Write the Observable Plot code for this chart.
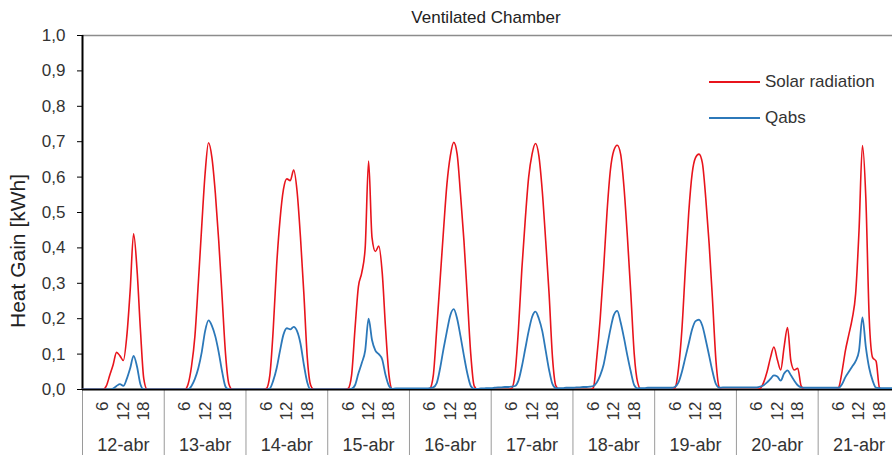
<!DOCTYPE html>
<html>
<head>
<meta charset="utf-8">
<script src="https://cdn.jsdelivr.net/npm/d3@7"></script>
<script src="https://cdn.jsdelivr.net/npm/@observablehq/plot@0.6"></script>
<style>
  html, body { margin: 0; padding: 0; background: #fff; }
  body { font-family: "Liberation Sans", Arial, sans-serif; }
  #wrap { position: relative; width: 892px; height: 455px; overflow: hidden; }
  #title { position: absolute; left: 336px; width: 300px; top: 8px; text-align: center; font-size: 17px; color: #222; line-height: 20px; }
  #ylabel { position: absolute; left: 8px; top: 328px; transform-origin: 0 0; transform: rotate(-90deg); font-size: 21px; line-height: 20px; white-space: nowrap; color: #222; }
  .leg { position: absolute; left: 709px; font-size: 17px; color: #333; display: flex; align-items: center; line-height: 20px; }
  .leg span.sw { display: inline-block; width: 51px; height: 2px; margin-right: 5px; }
  #chart svg { position: absolute; left: 0; top: 0; }
</style>
</head>
<body>
<div id="wrap">
  <div id="chart"></div>
  <div id="title">Ventilated Chamber</div>
  <div id="ylabel">Heat Gain [kWh]</div>
  <div class="leg" style="top:72px"><span class="sw" style="background:#e8141c"></span>Solar radiation</div>
  <div class="leg" style="top:108px"><span class="sw" style="background:#2c78b9"></span>Qabs</div>
</div>
<script>
// ---- data (hourly values, one row per day, hours 0..23) ----
const days = ["12-abr","13-abr","14-abr","15-abr","16-abr","17-abr","18-abr","19-abr","20-abr","21-abr"];
const hourTicks = [6, 12, 18];
const yTicks = [0, 0.1, 0.2, 0.3, 0.4, 0.5, 0.6, 0.7, 0.8, 0.9, 1.0];

const solar = [
  [0,0,0,0,0,0,0,0.01,0.04,0.07,0.105,0.095,0.082,0.15,0.28,0.44,0.34,0.17,0.03,0,0,0,0,0],
  [0,0,0,0,0,0,0,0.015,0.065,0.15,0.30,0.46,0.61,0.697,0.655,0.555,0.42,0.26,0.10,0.015,0,0,0,0],
  [0,0,0,0,0,0,0.003,0.04,0.17,0.35,0.48,0.565,0.595,0.59,0.62,0.56,0.43,0.27,0.09,0.012,0,0,0,0],
  [0,0,0,0,0,0,0.003,0.04,0.17,0.29,0.33,0.40,0.645,0.43,0.39,0.405,0.33,0.17,0.04,0,0,0,0,0],
  [0,0,0,0,0,0,0.003,0.04,0.17,0.31,0.45,0.58,0.66,0.698,0.665,0.55,0.42,0.26,0.10,0.01,0,0,0,0],
  [0,0,0,0,0,0,0.003,0.045,0.17,0.34,0.48,0.60,0.665,0.695,0.66,0.56,0.42,0.27,0.09,0.01,0,0,0,0],
  [0,0,0,0,0,0,0.005,0.09,0.20,0.34,0.50,0.62,0.675,0.69,0.665,0.57,0.43,0.27,0.10,0.02,0,0,0,0],
  [0,0,0,0,0,0,0.005,0.06,0.17,0.34,0.50,0.61,0.655,0.665,0.64,0.54,0.41,0.25,0.08,0.005,0,0,0,0],
  [0,0,0,0,0,0,0,0.003,0.02,0.05,0.09,0.12,0.085,0.055,0.12,0.175,0.08,0.055,0.06,0.01,0,0,0,0],
  [0,0,0,0,0,0,0.005,0.05,0.11,0.155,0.20,0.27,0.45,0.689,0.54,0.20,0.09,0.08,0.005,0,0,0,0,0]
];

const qabs = [
  [0,0,0,0,0,0,0,0,0,0.003,0.01,0.015,0.01,0.03,0.06,0.095,0.065,0.015,0,0,0,0,0,0],
  [0,0,0,0,0,0,0,0,0.01,0.03,0.06,0.105,0.165,0.195,0.18,0.15,0.105,0.05,0.008,0,0,0,0,0],
  [0,0,0,0,0,0,0,0.003,0.025,0.06,0.11,0.155,0.173,0.17,0.177,0.165,0.13,0.07,0.02,0,0,0,0,0],
  [0,0,0,0,0,0,0,0.002,0.012,0.045,0.075,0.11,0.20,0.14,0.11,0.10,0.085,0.04,0.01,0.002,0.003,0.003,0.003,0.003],
  [0.003,0.003,0.003,0.003,0.003,0.003,0.004,0.006,0.018,0.06,0.115,0.165,0.21,0.227,0.20,0.15,0.095,0.045,0.01,0.002,0.002,0.003,0.003,0.004],
  [0.004,0.005,0.006,0.006,0.007,0.007,0.008,0.01,0.025,0.065,0.115,0.165,0.205,0.22,0.20,0.165,0.11,0.055,0.015,0.004,0.004,0.004,0.005,0.005],
  [0.005,0.006,0.006,0.007,0.007,0.008,0.01,0.02,0.04,0.07,0.12,0.17,0.21,0.222,0.19,0.145,0.095,0.05,0.012,0.003,0.004,0.004,0.005,0.005],
  [0.005,0.005,0.005,0.005,0.005,0.005,0.008,0.02,0.05,0.09,0.13,0.17,0.193,0.197,0.18,0.14,0.095,0.05,0.015,0.005,0.006,0.006,0.006,0.006],
  [0.006,0.006,0.006,0.006,0.006,0.006,0.006,0.008,0.012,0.02,0.03,0.04,0.037,0.025,0.045,0.054,0.04,0.025,0.012,0.006,0.005,0.005,0.005,0.005],
  [0.005,0.005,0.005,0.005,0.005,0.005,0.005,0.015,0.035,0.05,0.065,0.08,0.11,0.204,0.12,0.06,0.025,0.005,0.004,0.004,0.004,0.004,0.004,0.004]
];

// ---- build tables ----
const toSeries = rows => rows.flatMap((row, d) => row.map((v, h) => ({t: d * 24 + h, v})));
const solarData = toSeries(solar);
const qabsData = toSeries(qabs);
const hourLabels = days.flatMap((_, d) => hourTicks.map(h => ({t: d * 24 + h, label: String(h)})));
const dayLabels = days.map((label, d) => ({t: d * 24 + 12, label}));
const dayStarts = days.map((_, d) => d * 24).concat([days.length * 24]);

// visible window: the reference crops the last day slightly at the right edge
const xMax = days.length * 24 * (892 - 82) / (899.4 - 82);

const chart = Plot.plot({
  width: 892,
  height: 455,
  marginLeft: 82,
  marginRight: 0,
  marginTop: 35,
  marginBottom: 66,
  x: {domain: [0, xMax], axis: null},
  y: {domain: [0, 1], axis: null},
  style: {fontFamily: "'Liberation Sans', Arial, sans-serif", fontSize: "17px", color: "#333", background: "transparent", overflow: "visible"},
  marks: [
    Plot.ruleY([1], {stroke: "#8c8c8c", strokeWidth: 1.5}),
    Plot.axisX(dayStarts, {tickSize: 66, tickFormat: () => "", stroke: "#9a9a9a", strokeWidth: 1, label: null}),
    Plot.text(hourLabels, {x: "t", text: "label", frameAnchor: "bottom", dy: 12, rotate: -90, textAnchor: "end", lineAnchor: "middle", fontSize: 17, fill: "#333"}),
    Plot.text(dayLabels, {x: "t", text: "label", frameAnchor: "bottom", dy: 56, lineAnchor: "middle", fontSize: 18, fill: "#333"}),
    Plot.axisY(yTicks, {tickFormat: d => d.toFixed(1).replace(".", ","), tickSize: 5, tickPadding: 12, stroke: "#000", fill: "#333", fontSize: 17, label: null}),
    Plot.ruleX([0], {stroke: "#000", strokeWidth: 2}),
    Plot.ruleY([0], {stroke: "#000", strokeWidth: 2}),
    Plot.line(solarData, {x: "t", y: "v", stroke: "#e8141c", strokeWidth: 1.6, curve: "monotone-x", clip: true}),
    Plot.line(qabsData, {x: "t", y: "v", stroke: "#2c78b9", strokeWidth: 1.8, curve: "monotone-x", clip: true})
  ]
});
document.getElementById("chart").appendChild(chart);
</script>
</body>
</html>
